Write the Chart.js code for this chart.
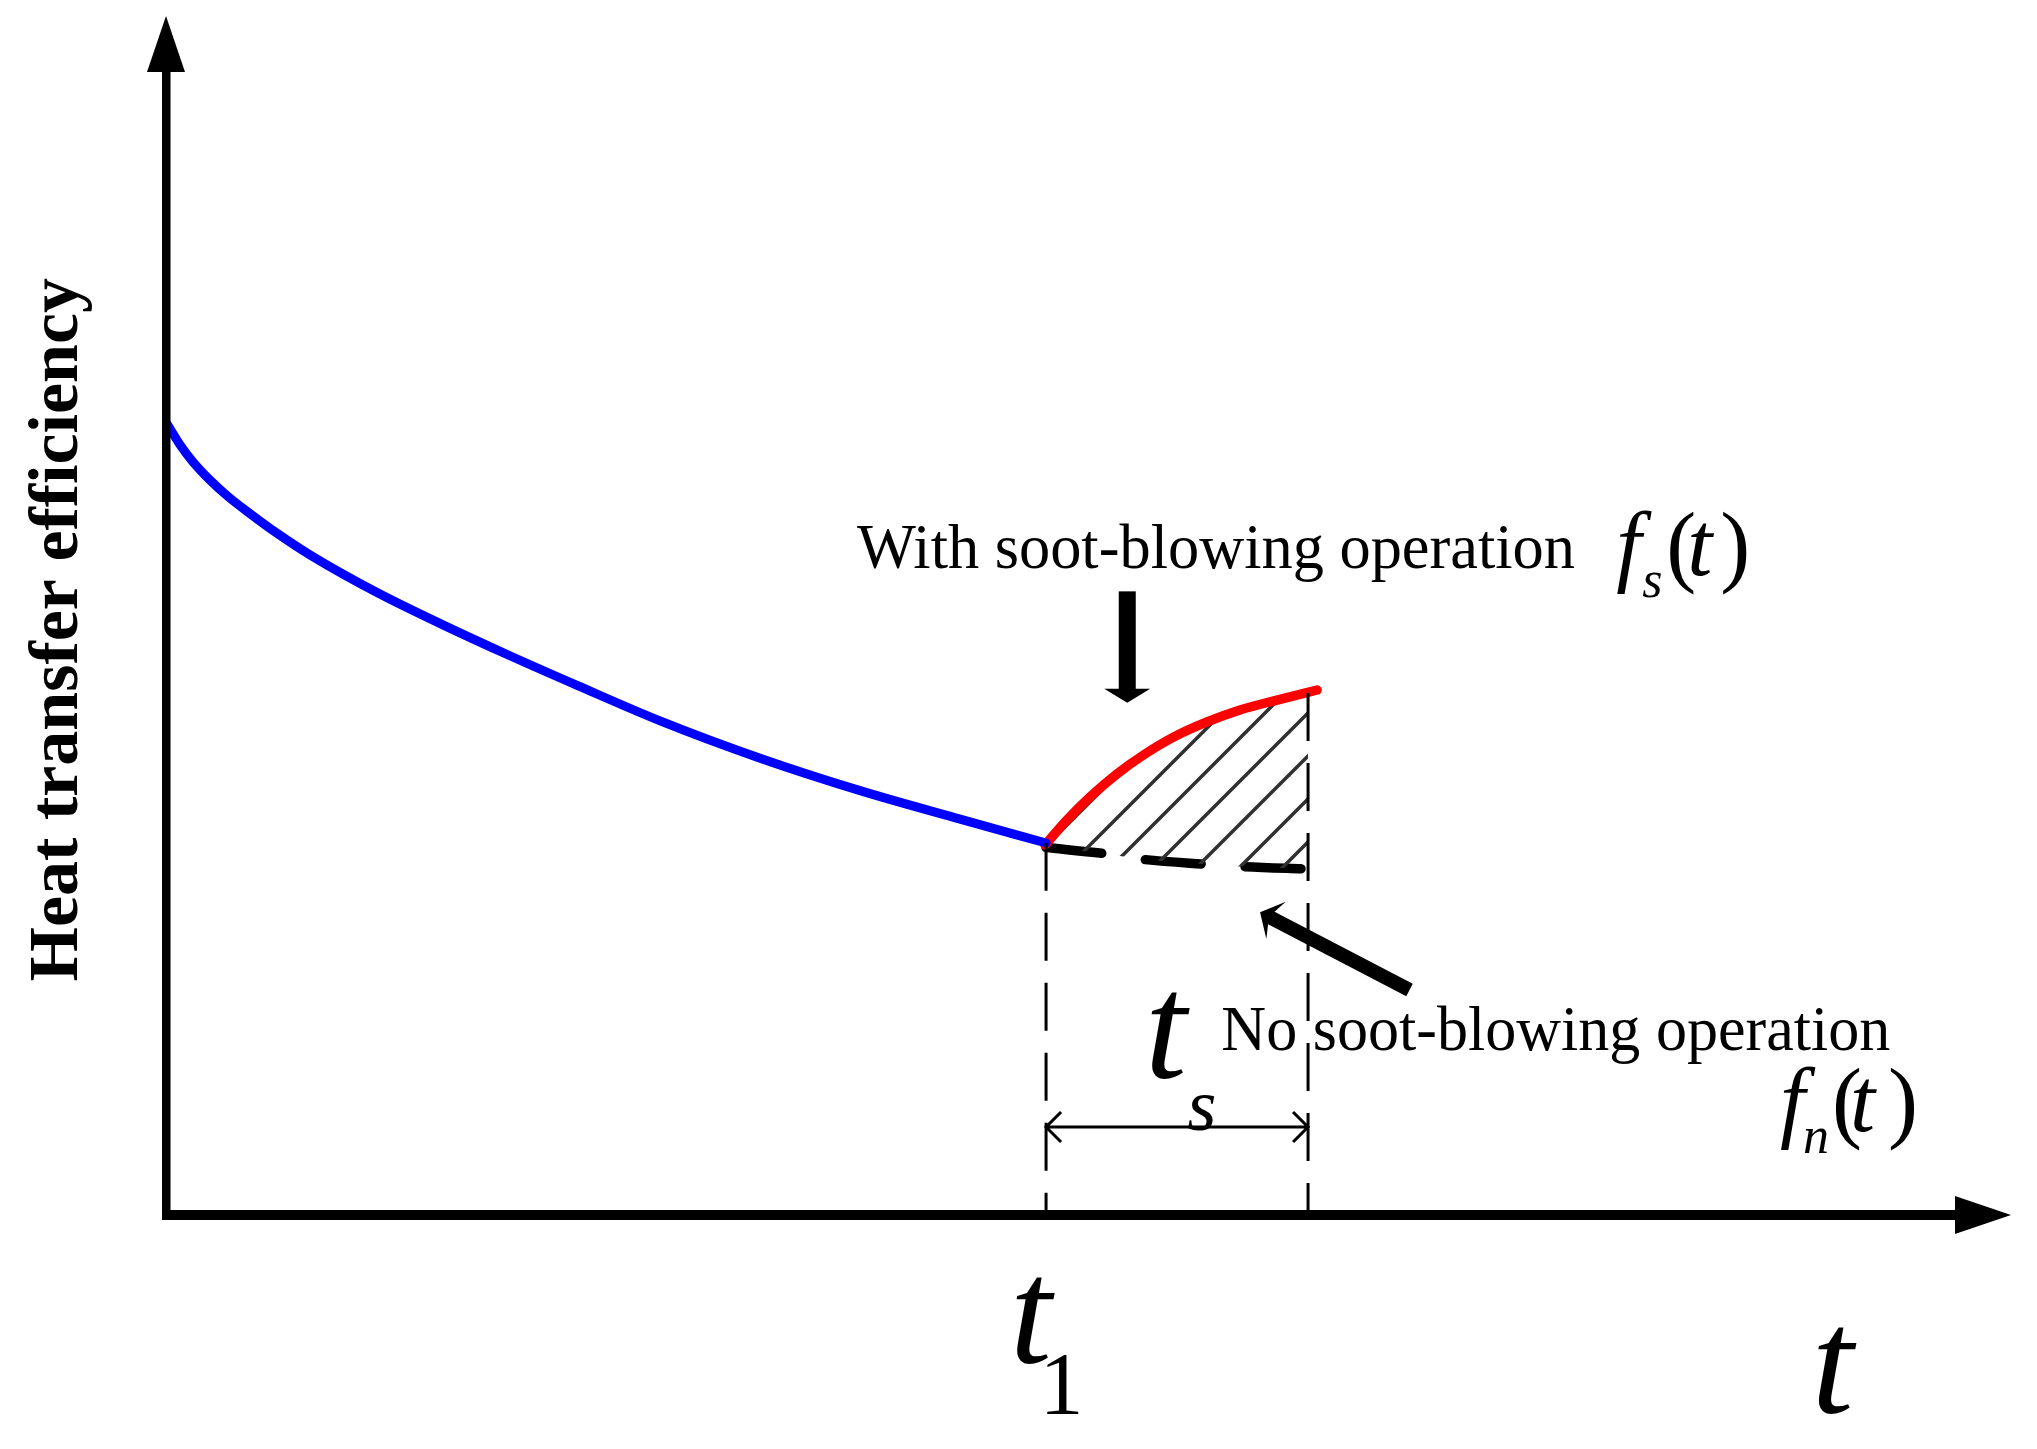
<!DOCTYPE html>
<html>
<head>
<meta charset="utf-8">
<script src="https://cdn.jsdelivr.net/npm/chart.js@4.4.1/dist/chart.umd.min.js"></script>
<style>
  body { margin: 0; background: #fff; }
  canvas { display: block; }
</style>
</head>
<body>
<canvas id="chart" width="2037" height="1449"></canvas>
<script>
   // heat transfer efficiency, without soot-blowing until t1
   const blueT   = [0, 0.76, 1.46, 2.38, 3.4, 4.55, 6.02, 7.8, 11.44, 15.01, 18.64, 22.28, 26.78, 32.2, 37.62, 43.04, 47.7];
   const blueEff = [66.25, 64.35, 62.92, 61.4, 59.97, 58.6, 56.95, 55.15, 52.0, 49.3, 46.72, 44.25, 41.28, 38.16, 35.45, 33.07, 31.08];

   // with soot-blowing operation f_s(t)
   const redT   = [47.64, 48.83, 50.08, 51.54, 52.95, 54.58, 56.42, 58.21, 60.22, 62.39];
   const redEff = [30.91, 33.0, 34.92, 36.85, 38.4, 39.9, 41.19, 42.19, 43.02, 43.86];

   // no soot-blowing operation f_n(t)
   const noT   = [47.7, 50.8, 53.0, 56.4, 58.4, 61.9];
   const noEff = [30.7, 30.2, 29.7, 29.3, 29.1, 28.9];

   // t1 and t1 + ts, and where the dashed guides start
   const markT   = [47.7, 61.9];
   const markTop = [31.1, 43.6];

   const pts = (xs, ys) => xs.map((v, i) => ({ x: v, y: ys[i] }));

   // diagonal hatch for the area between the two curves
   const hc = document.createElement('canvas');
   hc.width = hc.height = 43;
   const g = hc.getContext('2d');
   g.strokeStyle = '#303030';
   g.lineWidth = 3.5;
   [[-5, 48, 48, -5], [-5, 5, 5, -5], [38, 48, 48, 38]].forEach(l => {
      g.beginPath(); g.moveTo(l[0], l[1]); g.lineTo(l[2], l[3]); g.stroke();
   });
   const hatch = g.createPattern(hc, 'repeat');

   const SERIF = '"Liberation Serif", "Times New Roman", serif';

   function text(ctx, str, x, y, font, align, width) {
      ctx.save();
      ctx.font = font;
      ctx.textAlign = align || 'left';
      ctx.textBaseline = 'alphabetic';
      ctx.translate(x, y);
      if (width) ctx.scale(width / ctx.measureText(str).width, 1);
      ctx.fillText(str, 0, 0);
      ctx.restore();
   }

   function arrowHead(ctx, tx, ty, ang, len, half, notch) {
      const c = Math.cos(ang), s = Math.sin(ang);
      ctx.beginPath();
      ctx.moveTo(tx, ty);
      ctx.lineTo(tx - c * len - s * half, ty - s * len + c * half);
      ctx.lineTo(tx - c * (len - notch), ty - s * (len - notch));
      ctx.lineTo(tx - c * len + s * half, ty - s * len - c * half);
      ctx.closePath();
      ctx.fill();
   }

   // function f_x(t) with upright brackets
   function fLabel(ctx, sub, x, y, offs) {
      text(ctx, 'f', x + offs[0], y, 'italic 90px ' + SERIF);
      text(ctx, sub, x + offs[1], y + 22, 'italic 52px ' + SERIF);
      text(ctx, '(', x + offs[2], y, '90px ' + SERIF);
      text(ctx, 't', x + offs[3], y, 'italic 90px ' + SERIF);
      text(ctx, ')', x + offs[4], y, '90px ' + SERIF);
   }

   const overlay = {
      id: 'overlay',
      afterDatasetsDraw(chart) {
         const ctx = chart.ctx;
         const X = v => chart.scales.x.getPixelForValue(v);
         const Y = v => chart.scales.y.getPixelForValue(v);
         const x0 = X(0), y0 = Y(0);
         ctx.save();
         ctx.fillStyle = '#000';
         ctx.strokeStyle = '#000';

         // dashed guides at t1 and t1 + ts
         ctx.lineWidth = 3;
         ctx.setLineDash([48, 22]);
         markT.forEach((t, i) => {
            ctx.beginPath();
            ctx.moveTo(X(t), Y(markTop[i]));
            ctx.lineTo(X(t), y0);
            ctx.stroke();
         });
         ctx.setLineDash([]);

         // ts span arrow
         const ym = Y(7.35);
         ctx.lineWidth = 3;
         ctx.beginPath();
         ctx.moveTo(X(markT[0]), ym); ctx.lineTo(X(markT[1]), ym);
         ctx.moveTo(X(markT[0]) + 15, ym - 15); ctx.lineTo(X(markT[0]), ym); ctx.lineTo(X(markT[0]) + 15, ym + 15);
         ctx.moveTo(X(markT[1]) - 15, ym - 15); ctx.lineTo(X(markT[1]), ym); ctx.lineTo(X(markT[1]) - 15, ym + 15);
         ctx.stroke();

         // axes with arrow heads
         ctx.fillRect(x0 - 4, Y(100) + 50, 8.5, y0 - Y(100) - 50);
         arrowHead(ctx, x0, Y(100) - 2, -Math.PI / 2, 56, 19, 0);
         ctx.fillRect(x0 - 4, y0 - 5, X(100) - 50 - x0, 10);
         arrowHead(ctx, X(100), y0, 0, 56, 19, 0);

         // arrow to f_s(t)
         const ax = X(52.1);
         ctx.fillRect(ax - 8.5, Y(52.1), 17, Y(42.8) - Y(52.1) - 12);
         arrowHead(ctx, ax, Y(42.8), Math.PI / 2, 14, 23, 0);

         // arrow to f_n(t)
         const tx = X(59.3), ty = Y(25.3), sx = X(67.4), sy = Y(18.8);
         const ang = Math.atan2(ty - sy, tx - sx);
         ctx.lineWidth = 14;
         ctx.beginPath();
         ctx.moveTo(sx, sy);
         ctx.lineTo(tx - Math.cos(ang) * 10, ty - Math.sin(ang) * 10);
         ctx.stroke();
         arrowHead(ctx, tx, ty, ang, 18, 21, 8);

         // texts
         text(ctx, 'With soot-blowing operation', X(37.45), Y(54.05), '64px ' + SERIF, 'left', 718);
         fLabel(ctx, 's', X(78.6), Y(53.47), [0, 26, 50, 71, 104]);
         text(ctx, 'No soot-blowing operation', X(57.2), Y(13.78), '64px ' + SERIF, 'left', 669);
         fLabel(ctx, 'n', X(87.48), Y(7.02), [0, 23, 52, 70, 108]);

         text(ctx, 't', X(53.06), Y(11.45), 'italic 150px ' + SERIF);
         text(ctx, 's', X(56.15), Y(7.1), 'italic 75px ' + SERIF, 'center');
         text(ctx, 't', X(45.75), Y(-12.36), 'italic 150px ' + SERIF);
         text(ctx, '1', X(47.35), Y(-16.54), '88px ' + SERIF);
         text(ctx, 't', X(89.2), Y(-16.54), 'italic 150px ' + SERIF);

         ctx.save();
         ctx.translate(X(-4.8), Y(48.9));
         ctx.rotate(-Math.PI / 2);
         text(ctx, 'Heat transfer efficiency', 0, 0, 'bold 70px ' + SERIF, 'center');
         ctx.restore();

         ctx.restore();
      }
   };

   new Chart(document.getElementById('chart'), {
      type: 'line',
      data: {
         datasets: [
            {
               data: pts(blueT, blueEff),
               borderColor: '#0000ff',
               borderWidth: 9,
               borderCapStyle: 'round',
               pointRadius: 0,
               cubicInterpolationMode: 'monotone',
               fill: false
            },
            {
               data: pts(redT, redEff),
               borderColor: '#ff0000',
               borderWidth: 9.5,
               borderCapStyle: 'round',
               pointRadius: 0,
               cubicInterpolationMode: 'monotone',
               fill: { target: 2 },
               backgroundColor: hatch
            },
            {
               data: pts(noT, noEff),
               borderColor: '#000000',
               borderWidth: 9.5,
               borderDash: [56, 44],
               borderCapStyle: 'round',
               pointRadius: 0,
               cubicInterpolationMode: 'monotone',
               fill: false
            }
         ]
      },
      options: {
         responsive: false,
         animation: false,
         layout: { padding: { left: 166, right: 26, top: 18, bottom: 234 } },
         scales: {
            x: { type: 'linear', min: 0, max: 100, display: false },
            y: { min: 0, max: 100, display: false }
         },
         plugins: {
            legend: { display: false },
            tooltip: { enabled: false }
         }
      },
      plugins: [overlay]
   });
</script>
</body>
</html>
